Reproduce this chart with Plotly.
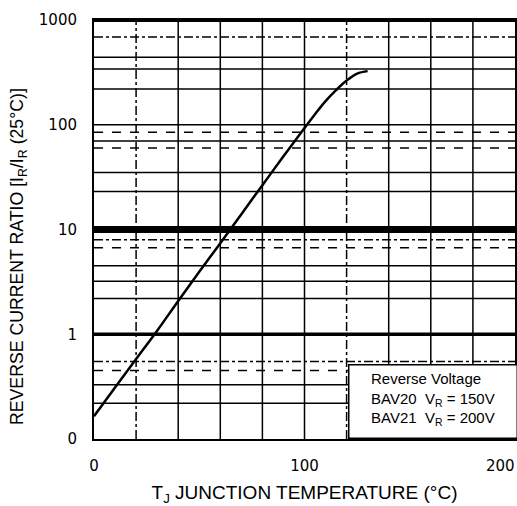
import plotly.graph_objects as go
import math

# ---- data ----
temperature_c = [0, 10, 20, 30, 40, 50, 60, 70, 80, 90, 100, 105, 110, 115, 120, 125, 130]
current_ratio = [0.165, 0.31, 0.58, 1.08, 2.08, 3.95, 7.4, 14, 26.5, 50, 93, 126, 168, 214, 264, 308, 325]

y_tick_values = [0.1, 1, 10, 100, 1000]
y_tick_labels = ["0", "1", "10", "100", "1000"]
x_tick_values = [0, 100, 200]
x_tick_labels = ["0", "100", "200"]

# grid (as drawn on the scanned sheet)
grid_x_solid = [40, 60, 80, 100, 140, 160, 180]
grid_x_dashdot = [20, 120]
grid_y_solid = [0.22, 0.33, 2.2, 3.2, 4.5, 23, 35, 70, 220, 340, 440]
grid_y_dashed = [0.45, 6.7, 60, 85]
grid_y_dashdot = [0.55, 8, 690]
major_y_lines = [1, 10, 100, 1000]
major_y_widths = [3.5, 7, 1.5, 4]

X_MIN, X_MAX = 0, 200
Y_MIN, Y_MAX = 0.1, 1000

W, H = 517, 506
ML, MR, MT, MB = 94, 2, 20, 67
PW, PH = W - ML - MR, H - MT - MB


def px_to_paper(px, py):
    return (px - ML) / PW, (H - MB - py) / PH


fig = go.Figure()


def hlines(vals):
    xs, ys = [], []
    for v in vals:
        xs += [X_MIN, X_MAX, None]
        ys += [v, v, None]
    return xs, ys


def vlines(vals):
    xs, ys = [], []
    for v in vals:
        xs += [v, v, None]
        ys += [Y_MIN, Y_MAX, None]
    return xs, ys


for vals, dash in [(grid_y_solid, "solid"), (grid_y_dashed, "dash"), (grid_y_dashdot, "dashdot")]:
    xs, ys = hlines(vals)
    fig.add_trace(go.Scatter(x=xs, y=ys, mode="lines", hoverinfo="skip",
                             line=dict(color="black", width=1.5, dash=dash), showlegend=False))

for vals, dash in [(grid_x_solid, "solid"), (grid_x_dashdot, "dashdot")]:
    xs, ys = vlines(vals)
    fig.add_trace(go.Scatter(x=xs, y=ys, mode="lines", hoverinfo="skip",
                             line=dict(color="black", width=1.5, dash=dash), showlegend=False))

for v, w in zip(major_y_lines, major_y_widths):
    xs, ys = hlines([v])
    fig.add_trace(go.Scatter(x=xs, y=ys, mode="lines", hoverinfo="skip",
                             line=dict(color="black", width=w), showlegend=False))

# curve
fig.add_trace(go.Scatter(x=temperature_c, y=current_ratio, mode="lines",
                         line=dict(color="black", width=2.5, shape="spline", smoothing=1.0),
                         showlegend=False))

# legend box (white panel in the lower-right corner)
bx, by = px_to_paper(348, 439)
fig.add_annotation(
    x=bx, y=by, xref="paper", yref="paper", xanchor="left", yanchor="bottom",
    text=" ", showarrow=False, width=163, height=68,
    bgcolor="white", bordercolor="black", borderwidth=1.5, borderpad=2,
)
tx, ty = px_to_paper(369, 368)
fig.add_annotation(
    x=tx, y=ty, xref="paper", yref="paper", xanchor="left", yanchor="top",
    text="Reverse Voltage<br>BAV20  V<sub>R</sub> = 150V<br>BAV21  V<sub>R</sub> = 200V",
    showarrow=False, align="left",
    font=dict(family="Liberation Sans", size=15, color="black"),
)

# y-axis title
yx, yy = px_to_paper(18, 257)
fig.add_annotation(
    x=yx, y=yy, xref="paper", yref="paper", xanchor="center", yanchor="middle",
    showarrow=False, textangle=-90,
    text="REVERSE CURRENT RATIO [I<sub>R</sub>/I<sub>R</sub> (25°C)]",
    font=dict(family="Liberation Sans", size=17.7, color="black"),
)

# last x tick label sits against the right edge of the sheet
lx, ly = px_to_paper(517, 466)
fig.add_annotation(
    x=lx, y=ly, xref="paper", yref="paper", xanchor="right", yanchor="middle",
    showarrow=False, text=x_tick_labels[-1],
    font=dict(family="DejaVu Sans", size=15, color="black"),
)

fig.update_layout(
    width=W, height=H,
    margin=dict(l=ML, r=MR, t=MT, b=MB, autoexpand=False),
    paper_bgcolor="white", plot_bgcolor="white",
    font=dict(family="DejaVu Sans", size=15, color="black"),
    xaxis=dict(range=[X_MIN, X_MAX], tickvals=x_tick_values[:-1], ticktext=x_tick_labels[:-1],
               showgrid=False, zeroline=False, showline=True, linecolor="black", linewidth=2,
               mirror=True, ticks="", ticklabelstandoff=12, automargin=False,
               title=dict(text="T<sub>J</sub> JUNCTION TEMPERATURE (°C)", standoff=12,
                          font=dict(family="Liberation Sans", size=19))),
    yaxis=dict(type="log", range=[math.log10(Y_MIN), math.log10(Y_MAX)],
               tickvals=y_tick_values, ticktext=y_tick_labels, automargin=False,
               showgrid=False, zeroline=False, showline=True, linecolor="black", linewidth=2,
               mirror=True, ticks="", ticklabelstandoff=12),
)

fig.write_html("out.html")
